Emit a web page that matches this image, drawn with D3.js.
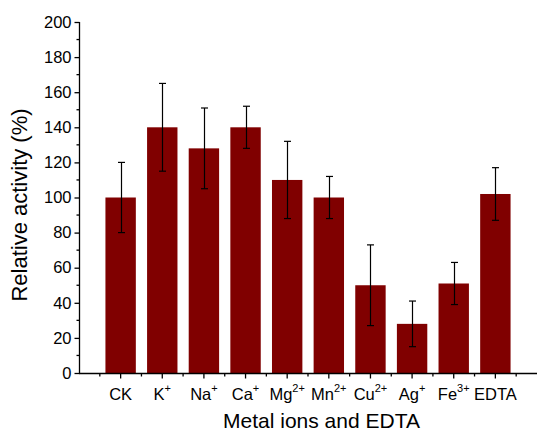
<!DOCTYPE html>
<html>
<head>
<meta charset="utf-8">
<script src="https://cdn.jsdelivr.net/npm/d3@7"></script>
<style>
  html, body { margin: 0; padding: 0; background: #fff; }
  svg { display: block; font-family: "Liberation Sans", Arial, sans-serif; }
</style>
</head>
<body>
<svg id="chart" width="537" height="433"></svg>
<script>
const categories = ["CK", "K", "Na", "Ca", "Mg", "Mn", "Cu", "Ag", "Fe", "EDTA"];
const superscripts = ["", "+", "+", "+", "2+", "2+", "2+", "+", "3+", ""];
const values = [100, 140, 128, 140, 110, 100, 50, 28, 51, 102];
const errors = [20, 25, 23, 12, 22, 12, 23, 13, 12, 15];
const yTicks = [0, 20, 40, 60, 80, 100, 120, 140, 160, 180, 200];

const svg = d3.select("#chart");
const x = d3.scaleLinear().domain([-1, 10]).range([79, 537]);
const y = d3.scaleLinear().domain([0, 200]).range([373, 22]);
const barHalf = 0.365;
const color = "#800000";

// bars
svg.append("g").selectAll("rect").data(values).join("rect")
  .attr("x", (d, i) => x(i - barHalf))
  .attr("width", (d, i) => x(i + barHalf) - x(i - barHalf))
  .attr("y", d => y(d))
  .attr("height", d => y(0) - y(d))
  .attr("fill", color);

// error bars
const eg = svg.append("g").attr("stroke", "#000").attr("stroke-width", 1.2);
values.forEach((v, i) => {
  const cx = Math.round(x(i)) + 0.5;
  eg.append("line").attr("x1", cx).attr("x2", cx).attr("y1", y(v + errors[i])).attr("y2", y(v - errors[i]));
  eg.append("line").attr("x1", cx - 3.5).attr("x2", cx + 3.5).attr("y1", y(v + errors[i])).attr("y2", y(v + errors[i]));
  eg.append("line").attr("x1", cx - 3.5).attr("x2", cx + 3.5).attr("y1", y(v - errors[i])).attr("y2", y(v - errors[i]));
});

// y axis
const yAxis = d3.axisLeft(y).tickValues(yTicks).tickSize(5).tickPadding(3).tickFormat(d3.format("d"));
const yg = svg.append("g").attr("transform", "translate(79.5,0)").call(yAxis);
yg.select(".domain").attr("d", `M0,${y(200)}V${y(0)}`).attr("stroke-width", 1.3);
yg.selectAll(".tick line").attr("stroke-width", 1.3);
yg.selectAll(".tick text").attr("font-size", 16.5).attr("fill", "#000").attr("font-family", "Liberation Sans, Arial, sans-serif");
const yMinor = d3.range(10, 200, 20);
yg.selectAll(".minor").data(yMinor).join("line").attr("class", "minor")
  .attr("x1", 0).attr("x2", -3).attr("y1", d => y(d)).attr("y2", d => y(d))
  .attr("stroke", "#000").attr("stroke-width", 1.3);

// x axis
const xg = svg.append("g").attr("transform", `translate(0,${y(0) + 0.5})`);
xg.append("line").attr("x1", x(-1)).attr("x2", x(10)).attr("stroke", "#000").attr("stroke-width", 1.3);
const idx = d3.range(categories.length);
xg.selectAll(".major").data(idx).join("line").attr("class", "major")
  .attr("x1", d => x(d)).attr("x2", d => x(d)).attr("y1", 0).attr("y2", 5)
  .attr("stroke", "#000").attr("stroke-width", 1.3);
xg.selectAll(".minorx").data(d3.range(-0.5, 10, 1)).join("line").attr("class", "minorx")
  .attr("x1", d => x(d)).attr("x2", d => x(d)).attr("y1", 0).attr("y2", 3)
  .attr("stroke", "#000").attr("stroke-width", 1.3);

const labels = xg.selectAll(".lab").data(idx).join("text").attr("class", "lab")
  .attr("x", d => x(d)).attr("y", 26.5).attr("text-anchor", "middle")
  .attr("font-size", 16.5).attr("fill", "#000");
labels.each(function(d) {
  const t = d3.select(this);
  t.append("tspan").text(categories[d]);
  if (superscripts[d]) {
    t.append("tspan").attr("font-size", 11).attr("dy", -8).text(superscripts[d]);
  }
});

// axis titles
svg.append("text").attr("x", 321.5).attr("y", 427.5).attr("text-anchor", "middle")
  .attr("font-size", 21).attr("fill", "#000").text("Metal ions and EDTA");
svg.append("text").attr("transform", `translate(27,205) rotate(-90)`)
  .attr("text-anchor", "middle").attr("font-size", 22).attr("fill", "#000")
  .text("Relative activity (%)");
</script>
</body>
</html>
